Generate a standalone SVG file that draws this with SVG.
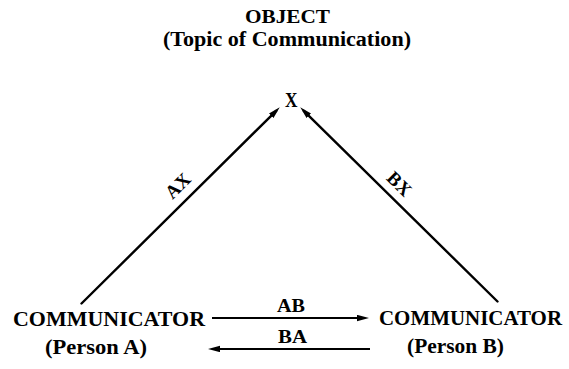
<svg xmlns="http://www.w3.org/2000/svg" width="569" height="369" viewBox="0 0 569 369">
<style>
text{font-family:"Liberation Serif","Times New Roman",serif;font-weight:bold;fill:#000}
.ln{stroke:#000;stroke-width:2.4;fill:none;stroke-linecap:round}
.hz{stroke:#000;stroke-width:2.2;fill:none}
</style>
<defs>
<marker id="ah" markerUnits="userSpaceOnUse" markerWidth="12" markerHeight="7" refX="7" refY="3.2" orient="auto">
<path d="M0,0 L12,3.2 L0,6.4 z" fill="#000"/>
</marker>
</defs>
<rect width="569" height="369" fill="#fff"/>
<g id="object">
<text x="245" y="23" font-size="18" textLength="85" lengthAdjust="spacingAndGlyphs">OBJECT</text>
<text x="163" y="46" font-size="20" textLength="248" lengthAdjust="spacingAndGlyphs">(Topic of Communication)</text>
<text x="285" y="107" font-size="21" textLength="12.5" lengthAdjust="spacingAndGlyphs">X</text>
</g>
<g id="personA">
<text x="13" y="326" font-size="22" textLength="192" lengthAdjust="spacingAndGlyphs">COMMUNICATOR</text>
<text x="45" y="354" font-size="21" textLength="102" lengthAdjust="spacingAndGlyphs">(Person A)</text>
</g>
<g id="personB">
<text x="379" y="325" font-size="21" textLength="183" lengthAdjust="spacingAndGlyphs">COMMUNICATOR</text>
<text x="407" y="353" font-size="21" textLength="97" lengthAdjust="spacingAndGlyphs">(Person B)</text>
</g>
<g id="connectors">
<line class="ln" x1="81.5" y1="303.5" x2="276.2" y2="110.8" marker-end="url(#ah)"/>
<line class="ln" x1="497.5" y1="301.5" x2="303.8" y2="110.8" marker-end="url(#ah)"/>
<line class="hz" x1="212" y1="318" x2="364" y2="318" marker-end="url(#ah)"/>
<line class="hz" x1="370" y1="349" x2="213" y2="349" marker-end="url(#ah)"/>
<text transform="translate(178,186) rotate(-44.7)" x="0" y="6" font-size="19" text-anchor="middle">AX</text>
<text transform="translate(399,184) rotate(44.7)" x="0" y="6" font-size="19" text-anchor="middle">BX</text>
<text x="277" y="312" font-size="18" textLength="28" lengthAdjust="spacingAndGlyphs">AB</text>
<text x="278" y="343" font-size="18" textLength="29" lengthAdjust="spacingAndGlyphs">BA</text>
</g>
</svg>
